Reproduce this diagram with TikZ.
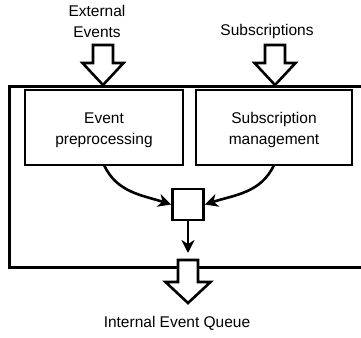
\documentclass[tikz,border=0pt]{standalone}
\usepackage{fontspec}
\setmainfont{Liberation Sans}
\usetikzlibrary{arrows.meta}
\tikzset{
  box/.style={draw, line width=2.8pt, fill=white, inner sep=0pt},
  lbl/.style={font=\fontsize{15.5}{21}\selectfont, align=center, inner sep=0pt},
  hollow/.style={draw, line width=2.6pt, fill=white, line join=miter},
  flow/.style={draw, line width=2.6pt, -{Stealth[length=13pt,width=13pt,inset=4pt]}},
  frame/.style={draw, line width=3pt}
}
\begin{document}
\begin{tikzpicture}[x=1pt,y=-1pt]
\useasboundingbox (0,0) rectangle (361,337);
% outer frame
\coordinate (ftr) at (364,86);
\coordinate (ftl) at (9,86);
\coordinate (fbl) at (9,267);
\coordinate (fbr) at (364,267);
\draw[frame] (ftr) -- (ftl) -- (fbl) -- (fbr);
% inner boxes
\draw[box] (25,90) rectangle (183,165);
\draw[box] (196,90) rectangle (352,165);
\node[lbl] (pre) at (104,130) {Event\\preprocessing};
\node[lbl] (sub) at (274,130) {Subscription\\management};
\coordinate (preS) at (104,165);
\coordinate (subS) at (274,165);
% merge square
\node[box, minimum width=31pt, minimum height=31pt] (sq) at (188,204.5) {};
% flows
\draw[flow] (preS) to[out=-65,in=162] (sq.west);
\draw[flow] (subS) to[out=-115,in=18] (sq.east);
\coordinate (qin) at (188,253);
\draw[flow] (sq.south) -- (qin);
% hollow arrows
\draw[hollow] (93,45) -- (113,45) -- (113,63) -- (123.5,63) -- (103,85) -- (82.5,63) -- (93,63) -- cycle;
\draw[hollow] (265,45) -- (285,45) -- (285,63) -- (295.5,63) -- (275,85) -- (254.5,63) -- (265,63) -- cycle;
\draw[hollow] (178,260) -- (198,260) -- (198,282) -- (210.5,282) -- (188,303) -- (165.5,282) -- (178,282) -- cycle;
% labels
\node[lbl] (ext) at (97,21) {External\\Events};
\node[lbl] (subs) at (267,31) {Subscriptions};
\node[lbl] (queue) at (177,323.5) {Internal Event Queue};
\end{tikzpicture}
\end{document}
